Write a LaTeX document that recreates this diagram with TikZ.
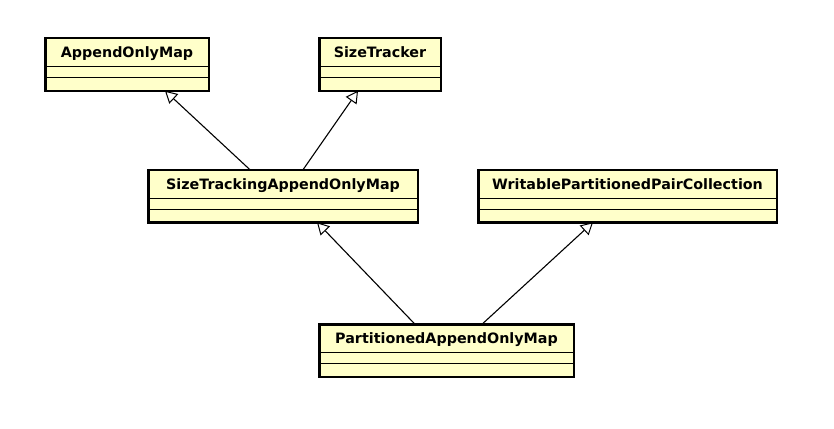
\documentclass[tikz,border=0pt]{standalone}
\usepackage{fontspec}
\setmainfont{DejaVu Sans}
\usepackage{tikz}
\usetikzlibrary{positioning, arrows.meta}
\definecolor{umlFill}{HTML}{FFFFCA}
\definecolor{umlLine}{HTML}{000000}
\newcommand{\classlines}[1]{%
  \draw[umlLine, line width=0.9pt] ([yshift=-28.5pt]#1.north west) -- ([yshift=-28.5pt]#1.north east);
  \draw[umlLine, line width=0.9pt] ([yshift=-39.5pt]#1.north west) -- ([yshift=-39.5pt]#1.north east);
}

\begin{document}
\begin{tikzpicture}[x=1pt, y=-1pt,
  umlclass/.style={draw=umlLine, line width=2.5pt, fill=umlFill, outer sep=0pt, inner sep=0pt, minimum height=52.5pt},
  ctitle/.style={font=\bfseries\fontsize{14.3}{16}\selectfont, anchor=base},
  inherit/.style={line width=1.1pt, -{Triangle[open, length=12pt, width=13pt, line width=1pt]}}]
  \useasboundingbox (0,0) rectangle (834,428);
  % top row
  \node[umlclass, minimum width=163.5pt] (aom) at (127,64.5) {};
  \classlines{aom}
  \node[ctitle] at ([yshift=-19.5pt]aom.north) {AppendOnlyMap};
  \node[umlclass, minimum width=121.5pt] (st) at (380,64.5) {};
  \classlines{st}
  \node[ctitle] at ([yshift=-19.5pt]st.north) {SizeTracker};
  % middle row
  \node[umlclass, minimum width=269.5pt] (stam) at (283,196) {};
  \classlines{stam}
  \node[ctitle] at ([yshift=-19.5pt]stam.north) {SizeTrackingAppendOnlyMap};
  \node[umlclass, minimum width=298.5pt] (wppc) at (627.5,196) {};
  \classlines{wppc}
  \node[ctitle] at ([yshift=-19.5pt]wppc.north) {WritablePartitionedPairCollection};
  % bottom
  \node[umlclass, minimum width=254.5pt] (pam) at (446.5,350.5) {};
  \classlines{pam}
  \node[ctitle] at ([yshift=-19.5pt]pam.north) {PartitionedAppendOnlyMap};
  % generalizations
  \draw[inherit] ([xshift=-33pt]stam.north) -- ([xshift=38pt]aom.south);
  \draw[inherit] ([xshift=20pt]stam.north) -- ([xshift=-22pt]st.south);
  \draw[inherit] ([xshift=-31.5pt]pam.north) -- ([xshift=34pt]stam.south);
  \draw[inherit] ([xshift=35.5pt]pam.north) -- ([xshift=-34.5pt]wppc.south);
\end{tikzpicture}
\end{document}
